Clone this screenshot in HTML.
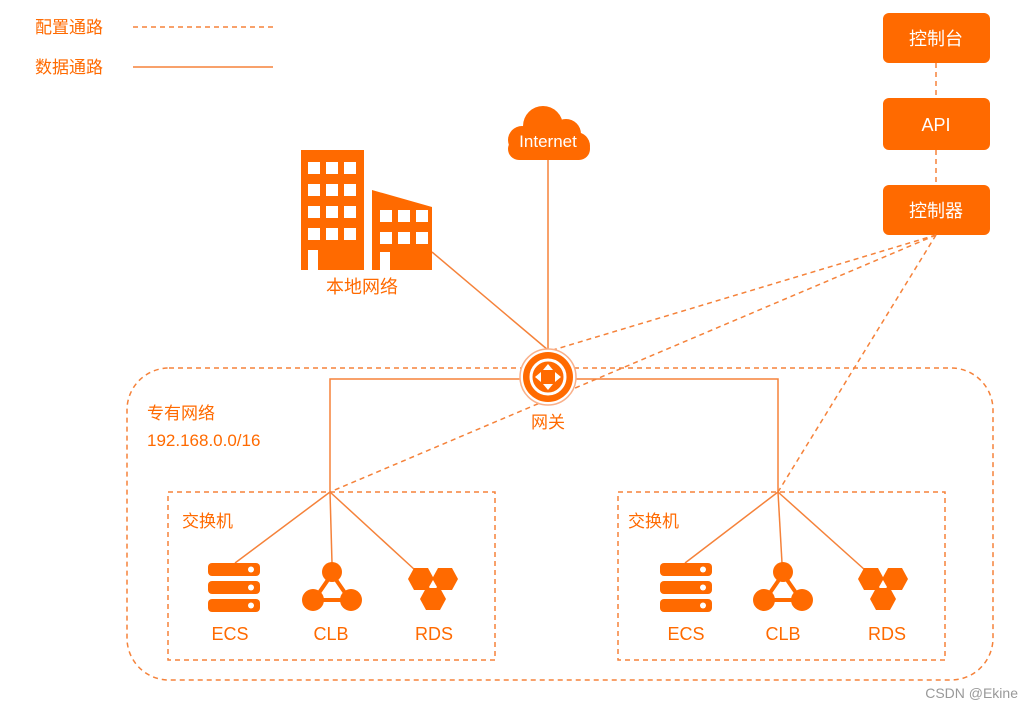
<!DOCTYPE html>
<html><head><meta charset="utf-8"><style>
body{margin:0;background:#fff;}
svg{display:block;font-family:"Liberation Sans","Noto Sans CJK SC",sans-serif;}
</style></head><body>
<svg width="1023" height="711" viewBox="0 0 1023 711">
<defs>
<g id="ecs"><rect x="0" y="0" width="52" height="13" rx="4" fill="#FF6A00"/><rect x="0" y="18" width="52" height="13" rx="4" fill="#FF6A00"/><rect x="0" y="36" width="52" height="13" rx="4" fill="#FF6A00"/><circle cx="43" cy="6.5" r="3" fill="#fff"/><circle cx="43" cy="24.5" r="3" fill="#fff"/><circle cx="43" cy="42.5" r="3" fill="#fff"/></g>
<g id="clb"><path d="M30 12 L12 38 L48 38 Z" fill="none" stroke="#FF6A00" stroke-width="4"/><circle cx="30" cy="10" r="10" fill="#FF6A00"/><circle cx="11" cy="38" r="11" fill="#FF6A00"/><circle cx="49" cy="38" r="11" fill="#FF6A00"/></g>
<g id="rds" fill="#FF6A00"><polygon points="6,0 20,0 26,11 20,22 6,22 0,11"/><polygon points="30,0 44,0 50,11 44,22 30,22 24,11"/><polygon points="18,20 32,20 38,31 32,42 18,42 12,31"/><polygon points="25,12 21,19 29,19" fill="#fff"/></g>
</defs>
<g fill="#FF6A00" font-size="17">
<text x="35" y="33">配置通路</text><text x="35" y="73">数据通路</text></g>
<line x1="133" y1="27" x2="273" y2="27" stroke="#F5823A" stroke-width="1.5" stroke-dasharray="5,4"/>
<line x1="133" y1="67" x2="273" y2="67" stroke="#F5823A" stroke-width="1.5"/>
<g fill="#FF6A00"><rect x="883" y="13" width="107" height="50" rx="6"/><rect x="883" y="98" width="107" height="52" rx="6"/><rect x="883" y="185" width="107" height="50" rx="6"/></g>
<g fill="#fff" font-size="18" text-anchor="middle"><text x="936" y="45">控制台</text><text x="936" y="131">API</text><text x="936" y="217">控制器</text></g>
<g stroke="#F5823A" stroke-width="1.5" stroke-dasharray="5,4" fill="none">
<line x1="936" y1="63" x2="936" y2="98"/><line x1="936" y1="150" x2="936" y2="185"/>
<line x1="936" y1="235" x2="553" y2="350"/><line x1="936" y1="235" x2="330" y2="492"/><line x1="936" y1="235" x2="778" y2="492"/>
<rect x="127" y="368" width="866" height="312" rx="42"/>
<rect x="168" y="492" width="327" height="168"/><rect x="618" y="492" width="327" height="168"/>
</g>
<g stroke="#F5823A" stroke-width="1.5" fill="none">
<line x1="548" y1="160" x2="548" y2="355"/><line x1="432" y1="252" x2="548" y2="350"/>
<polyline points="330,492 330,379 778,379 778,492"/>
<line x1="330" y1="492" x2="235" y2="563"/><line x1="330" y1="492" x2="332" y2="563"/><line x1="330" y1="492" x2="415" y2="570"/>
<line x1="778" y1="492" x2="685" y2="563"/><line x1="778" y1="492" x2="782" y2="563"/><line x1="778" y1="492" x2="865" y2="570"/>
</g>
<!-- cloud -->
<g fill="#FF6A00"><circle cx="543" cy="126" r="20"/><circle cx="566" cy="134" r="15"/><circle cx="522" cy="140" r="14"/><circle cx="576" cy="146" r="14"/><rect x="522" y="134" width="54" height="26" rx="10"/><rect x="508" y="138" width="82" height="22" rx="11"/></g>
<text x="548" y="147" fill="#fff" font-size="17" text-anchor="middle">Internet</text>
<!-- buildings -->
<g fill="#FF6A00"><rect x="301" y="150" width="63" height="120"/><polygon points="372,190 432,207 432,270 372,270"/></g>
<g fill="#fff">
<rect x="308" y="162" width="12" height="12"/><rect x="326" y="162" width="12" height="12"/><rect x="344" y="162" width="12" height="12"/>
<rect x="308" y="184" width="12" height="12"/><rect x="326" y="184" width="12" height="12"/><rect x="344" y="184" width="12" height="12"/>
<rect x="308" y="206" width="12" height="12"/><rect x="326" y="206" width="12" height="12"/><rect x="344" y="206" width="12" height="12"/>
<rect x="308" y="228" width="12" height="12"/><rect x="326" y="228" width="12" height="12"/><rect x="344" y="228" width="12" height="12"/>
<rect x="308" y="250" width="10" height="20"/>
<rect x="380" y="210" width="12" height="12"/><rect x="398" y="210" width="12" height="12"/><rect x="416" y="210" width="12" height="12"/>
<rect x="380" y="232" width="12" height="12"/><rect x="398" y="232" width="12" height="12"/><rect x="416" y="232" width="12" height="12"/>
<rect x="380" y="252" width="10" height="18"/></g>
<text x="362" y="293" fill="#FF6A00" font-size="18" text-anchor="middle">本地网络</text>
<!-- gateway -->
<circle cx="548" cy="377" r="28" fill="#fff" stroke="#F9B08A" stroke-width="1.5"/>
<circle cx="548" cy="377" r="25" fill="#FF6A00"/>
<circle cx="548" cy="377" r="17" fill="none" stroke="#fff" stroke-width="3"/>
<g fill="#fff"><polygon points="548,364 543,370 553,370"/><polygon points="548,390 543,384 553,384"/><polygon points="535,377 541,372 541,382"/><polygon points="561,377 555,372 555,382"/></g>
<text x="548" y="428" fill="#FF6A00" font-size="17" text-anchor="middle">网关</text>
<g fill="#FF6A00" font-size="17"><text x="147" y="419">专有网络</text><text x="147" y="446">192.168.0.0/16</text>
<text x="182" y="527">交换机</text><text x="628" y="527">交换机</text></g>
<use href="#ecs" x="208" y="563"/><use href="#clb" x="302" y="562"/><use href="#rds" x="408" y="568"/>
<use href="#ecs" x="660" y="563"/><use href="#clb" x="753" y="562"/><use href="#rds" x="858" y="568"/>
<g fill="#FF6A00" font-size="18" text-anchor="middle">
<text x="230" y="640">ECS</text><text x="331" y="640">CLB</text><text x="434" y="640">RDS</text>
<text x="686" y="640">ECS</text><text x="783" y="640">CLB</text><text x="887" y="640">RDS</text></g>
<text x="1018" y="698" fill="#999" font-size="14" text-anchor="end">CSDN @Ekine</text>
</svg>
</body></html>
